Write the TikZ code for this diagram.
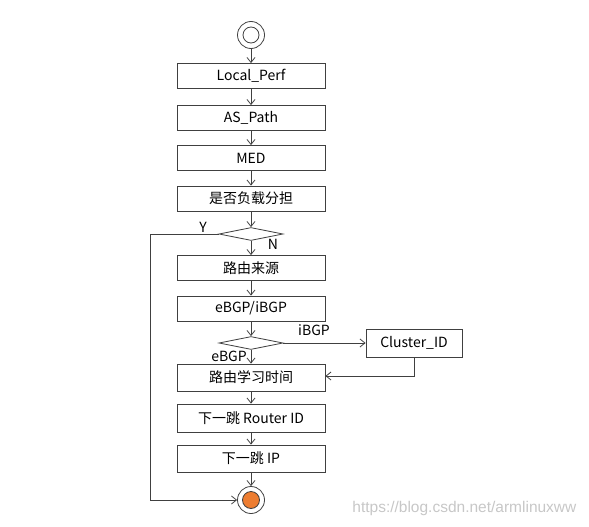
\documentclass[tikz,border=0pt]{standalone}
\usepackage{fontspec}
\setmainfont{Noto Sans CJK SC}
\usetikzlibrary{arrows.meta,shapes.geometric}
\begin{document}
\begin{tikzpicture}[x=1pt,y=-1pt,
  line width=0.8pt,
  box/.style={draw=black!75,fill=white,minimum width=148pt,minimum height=25pt,inner sep=0pt,font=\fontsize{14}{16}\selectfont},
  dec/.style={diamond,draw=black!75,fill=white,minimum width=64pt,minimum height=13pt,inner sep=0pt,aspect=4.9},
  arr/.style={draw=black!75,-{Straight Barb[length=5pt,width=8pt]}},
  lbl/.style={font=\fontsize{14}{16}\selectfont,inner sep=0pt}]
\useasboundingbox (0,0) rectangle (589,527);
\node[circle,draw=black!75,minimum size=27pt,inner sep=0pt] (start) at (251,35) {};
\node[circle,draw=black!75,minimum size=16pt,inner sep=0pt] at (start) {};
\node[box] (lp) at (251,76) {Local\_Perf};
\node[box] (as) at (251,118) {AS\_Path};
\node[box] (med) at (251,158) {MED};
\node[box] (lb) at (251,198.5) {是否负载分担};
\node[dec] (d1) at (251,234) {};
\node[box] (src) at (251,268) {路由来源};
\node[box] (eb) at (251,308.5) {eBGP/iBGP};
\node[dec] (d2) at (251,343) {};
\node[box,minimum width=96pt,minimum height=28pt] (cl) at (414,343) {Cluster\_ID};
\node[box,minimum height=27pt] (lt) at (251,377.5) {路由学习时间};
\node[box,minimum height=28pt] (rid) at (251,418) {下一跳 Router ID};
\node[box,minimum height=27pt] (ip) at (251,458.5) {下一跳 IP};
\node[circle,draw=black!75,minimum size=27pt,inner sep=0pt] (end) at (251,500) {};
\node[circle,draw=black!75,fill={rgb,255:red,237;green,125;blue,49},minimum size=17pt,inner sep=0pt] at (end) {};
\coordinate (yc1) at (150,234);
\coordinate (yc2) at (150,500);
\coordinate (cc) at (414,376);
\draw[arr] (start) -- (lp);
\draw[arr] (lp) -- (as);
\draw[arr] (as) -- (med);
\draw[arr] (med) -- (lb);
\draw[arr] (lb) -- (d1);
\draw[arr] (d1) -- (src);
\draw[arr] (src) -- (eb);
\draw[arr] (eb) -- (d2);
\draw[arr] (d2) -- (lt);
\draw[arr] (lt) -- (rid);
\draw[arr] (rid) -- (ip);
\draw[arr] (ip) -- (end);
\draw[arr] (d1.west) -- (yc1) -- (yc2) -- (end.west);
\draw[arr] (d2.east) -- (cl.west);
\draw[arr] (cl.south) -- (cc) -- (lt.east |- cc);
\node[lbl] at (203,227) {Y};
\node[lbl] at (273,244) {N};
\node[lbl] at (314,330) {iBGP};
\node[lbl] at (229,356) {eBGP};
\node[text=black!22, inner sep=0pt, anchor=west] (wm) at (352,508) {\fontspec{Liberation Sans}\fontsize{15.5}{18}\selectfont https://blog.csdn.net/armlinuxww};
\end{tikzpicture}
\end{document}
